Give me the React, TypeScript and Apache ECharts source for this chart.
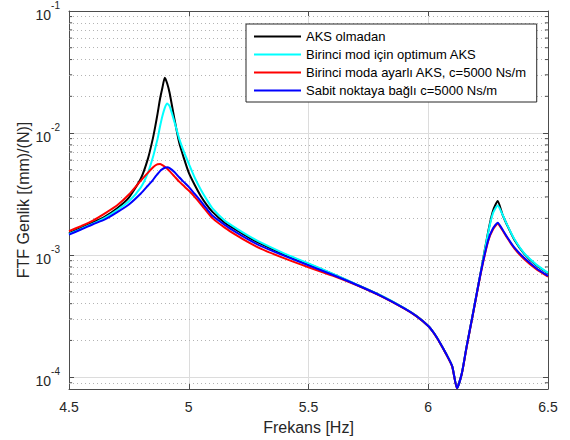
import React, { useEffect, useRef } from 'react';
import * as echarts from 'echarts';

// Frequency grid [Hz]
const frequencies = [
  4.5, 4.55, 4.6, 4.65, 4.7, 4.75, 4.8, 4.83, 4.85, 4.86, 4.87, 4.88, 4.89, 4.9, 4.91, 4.92, 4.94, 4.96, 4.98,
  5.0, 5.025, 5.05, 5.075, 5.1, 5.15, 5.2, 5.25, 5.3, 5.4, 5.5, 5.6, 5.7, 5.8, 5.9, 5.95,
  6.0, 6.025, 6.05, 6.075, 6.1, 6.12, 6.14, 6.16, 6.19, 6.22, 6.25, 6.27, 6.29, 6.31, 6.33, 6.36, 6.4, 6.45, 6.5,
];

// FTF amplitude [(mm)/(N)]
const aksOlmadan = [
  1.51e-3, 1.67e-3, 1.85e-3, 2.07e-3, 2.41e-3, 2.96e-3, 4.24e-3, 6.2e-3, 9.0e-3, 0.0113, 0.0145, 0.019, 0.0235, 0.0284, 0.0255, 0.0214, 0.0131, 8.35e-3, 6.2e-3,
  4.74e-3, 3.75e-3, 3.05e-3, 2.58e-3, 2.25e-3, 1.84e-3, 1.6e-3, 1.4e-3, 1.24e-3, 1.01e-3, 8.45e-4, 7.0e-4, 5.74e-4, 4.68e-4, 3.67e-4, 3.18e-4,
  2.63e-4, 2.28e-4, 1.9e-4, 1.55e-4, 1.23e-4, 8.1e-5, 1.07e-4, 1.77e-4, 3.6e-4, 7.4e-4, 1.55e-3, 2.3e-3, 2.77e-3, 2.15e-3, 1.75e-3, 1.33e-3, 1.03e-3, 8.3e-4, 7.1e-4,
];
const optimumAks = [
  1.49e-3, 1.64e-3, 1.81e-3, 2.02e-3, 2.33e-3, 2.76e-3, 3.59e-3, 4.74e-3, 6.3e-3, 7.5e-3, 9.0e-3, 0.0113, 0.0138, 0.0161, 0.0175, 0.0166, 0.0124, 9.0e-3, 7.0e-3,
  5.62e-3, 4.3e-3, 3.45e-3, 2.85e-3, 2.4e-3, 1.92e-3, 1.65e-3, 1.44e-3, 1.27e-3, 1.03e-3, 8.55e-4, 7.05e-4, 5.76e-4, 4.69e-4, 3.68e-4, 3.18e-4,
  2.63e-4, 2.28e-4, 1.9e-4, 1.55e-4, 1.23e-4, 8.1e-5, 1.07e-4, 1.77e-4, 3.6e-4, 7.4e-4, 1.52e-3, 2.2e-3, 2.55e-3, 2.15e-3, 1.76e-3, 1.35e-3, 1.04e-3, 8.4e-4, 7.15e-4,
];
const ayarliAks = [
  1.57e-3, 1.73e-3, 1.92e-3, 2.2e-3, 2.55e-3, 3.14e-3, 4.08e-3, 4.74e-3, 5.22e-3, 5.42e-3, 5.56e-3, 5.57e-3, 5.46e-3, 5.3e-3, 5.1e-3, 4.88e-3, 4.42e-3, 4.0e-3, 3.68e-3,
  3.38e-3, 3.0e-3, 2.62e-3, 2.28e-3, 2.0e-3, 1.68e-3, 1.45e-3, 1.27e-3, 1.13e-3, 9.4e-4, 7.95e-4, 6.8e-4, 5.68e-4, 4.63e-4, 3.64e-4, 3.16e-4,
  2.62e-4, 2.27e-4, 1.89e-4, 1.54e-4, 1.22e-4, 8.1e-5, 1.06e-4, 1.75e-4, 3.55e-4, 7.2e-4, 1.3e-3, 1.62e-3, 1.81e-3, 1.6e-3, 1.38e-3, 1.13e-3, 9.3e-4, 7.7e-4, 6.65e-4,
];
const sabitNokta = [
  1.47e-3, 1.62e-3, 1.79e-3, 1.96e-3, 2.24e-3, 2.6e-3, 3.2e-3, 3.72e-3, 4.12e-3, 4.38e-3, 4.62e-3, 4.88e-3, 5.06e-3, 5.2e-3, 5.24e-3, 5.16e-3, 4.8e-3, 4.34e-3, 3.96e-3,
  3.62e-3, 3.17e-3, 2.77e-3, 2.4e-3, 2.1e-3, 1.77e-3, 1.53e-3, 1.34e-3, 1.19e-3, 9.85e-4, 8.25e-4, 6.9e-4, 5.72e-4, 4.66e-4, 3.66e-4, 3.17e-4,
  2.63e-4, 2.28e-4, 1.9e-4, 1.55e-4, 1.23e-4, 8.1e-5, 1.07e-4, 1.77e-4, 3.58e-4, 7.3e-4, 1.32e-3, 1.65e-3, 1.84e-3, 1.62e-3, 1.4e-3, 1.15e-3, 9.5e-4, 7.85e-4, 6.75e-4,
];

const seriesNames = [
  'AKS olmadan',
  'Birinci mod için optimum AKS',
  'Birinci moda ayarlı AKS, c=5000 Ns/m',
  'Sabit noktaya bağlı c=5000 Ns/m',
];
const seriesValues = [aksOlmadan, optimumAks, ayarliAks, sabitNokta];
const seriesColors = ['#000000', '#00ffff', '#ff0000', '#0000ff'];

const xMin = 4.5;
const xMax = 6.5;
const xInterval = 0.5;
const yMin = 8e-5;
const yMax = 0.1;
const minorGridValues = [
  9e-5,
  2e-4, 3e-4, 4e-4, 5e-4, 6e-4, 7e-4, 8e-4, 9e-4,
  2e-3, 3e-3, 4e-3, 5e-3, 6e-3, 7e-3, 8e-3, 9e-3,
  2e-2, 3e-2, 4e-2, 5e-2, 6e-2, 7e-2, 8e-2, 9e-2,
];
const minorTickLength = 0.013; // in Hz

const FONT = 'Arial, "Liberation Sans", Helvetica, sans-serif';
const AXIS_COLOR = '#4d4d4d';
const TEXT_COLOR = '#262626';

export default function App() {
  const ref = useRef<HTMLDivElement>(null);

  useEffect(() => {
    if (!ref.current) return;
    const chart = echarts.init(ref.current, null, { renderer: 'svg' });

    const lineSeries = seriesNames.map((name, i) => ({
      name,
      type: 'line',
      symbol: 'none',
      smooth: 0.2,
      z: 3 + i,
      lineStyle: { color: seriesColors[i], width: 2 },
      itemStyle: { color: seriesColors[i] },
      data: frequencies.map((f, k) => [f, seriesValues[i][k]]),
    }));

    // Minor tick marks on the left and right axes
    const minorTickData = minorGridValues.flatMap((v) => [
      [xMin, v],
      [xMin + minorTickLength, v],
      [xMin, null],
      [xMax - minorTickLength, v],
      [xMax, v],
      [xMax, null],
    ]);

    const helperSeries = [
      {
        name: '_minorGrid',
        type: 'line',
        data: [],
        silent: true,
        z: 1,
        markLine: {
          silent: true,
          z: 1,
          precision: 10,
          symbol: 'none',
          animation: false,
          label: { show: false },
          lineStyle: { color: '#b4b4b4', width: 1, type: [1, 3] },
          data: minorGridValues.map((v) => ({ yAxis: v })),
        },
      },
      {
        name: '_minorTicks',
        type: 'line',
        symbol: 'none',
        silent: true,
        connectNulls: false,
        z: 2,
        lineStyle: { color: AXIS_COLOR, width: 1 },
        data: minorTickData,
      },
    ];

    const option = {
      animation: false,
      backgroundColor: '#ffffff',
      textStyle: { fontFamily: FONT },
      grid: { left: 69, right: 22, top: 10, bottom: 51, containLabel: false },
      legend: {
        data: seriesNames,
        orient: 'vertical',
        left: 246,
        top: 24,
        width: 290,
        itemWidth: 47,
        itemHeight: 13,
        itemGap: 5,
        padding: [6, 10, 5, 7],
        borderColor: '#262626',
        borderWidth: 1,
        backgroundColor: '#ffffff',
        itemStyle: { opacity: 0 },
        lineStyle: { width: 2 },
        textStyle: { fontSize: 13, color: '#000000', fontFamily: FONT },
        selectedMode: false,
      },
      xAxis: [
        {
          type: 'value',
          min: xMin,
          max: xMax,
          interval: xInterval,
          name: 'Frekans [Hz]',
          nameLocation: 'middle',
          nameGap: 30,
          nameMoveOverlap: false,
          nameTextStyle: { fontSize: 16, color: TEXT_COLOR, fontFamily: FONT },
          axisLine: { show: true, lineStyle: { color: AXIS_COLOR, width: 1 } },
          axisTick: { show: true, inside: true, length: 5, lineStyle: { color: AXIS_COLOR } },
          axisLabel: { fontSize: 14, color: TEXT_COLOR, margin: 11, fontFamily: FONT },
          splitLine: { show: true, lineStyle: { color: '#dcdcdc', width: 1 } },
        },
        {
          type: 'value',
          position: 'top',
          min: xMin,
          max: xMax,
          interval: xInterval,
          axisLine: { show: true, lineStyle: { color: AXIS_COLOR, width: 1 } },
          axisTick: { show: true, inside: true, length: 5, lineStyle: { color: AXIS_COLOR } },
          axisLabel: { show: false },
          splitLine: { show: false },
        },
      ],
      yAxis: [
        {
          type: 'log',
          logBase: 10,
          min: yMin,
          max: yMax,
          name: 'FTF Genlik [(mm)/(N)]',
          nameLocation: 'middle',
          nameGap: 38,
          nameMoveOverlap: false,
          nameTextStyle: { fontSize: 16, color: TEXT_COLOR, fontFamily: FONT },
          axisLine: { show: true, lineStyle: { color: AXIS_COLOR, width: 1 } },
          axisTick: { show: true, inside: true, length: 5, lineStyle: { color: AXIS_COLOR } },
          axisLabel: {
            margin: 9,
            showMinLabel: false,
            formatter: (v: number) => {
              const e = Math.log10(v);
              const r = Math.round(e);
              if (Math.abs(e - r) > 1e-6) return '';
              return `{b|10}{s|${r}}`;
            },
            rich: {
              b: { fontSize: 14, color: TEXT_COLOR, fontFamily: FONT, lineHeight: 22, verticalAlign: 'bottom' },
              s: { fontSize: 10, color: TEXT_COLOR, fontFamily: FONT, lineHeight: 12, verticalAlign: 'top' },
            },
          },
          splitLine: { show: true, lineStyle: { color: '#dcdcdc', width: 1 } },
        },
        {
          type: 'log',
          logBase: 10,
          min: yMin,
          max: yMax,
          position: 'right',
          axisLine: { show: true, lineStyle: { color: AXIS_COLOR, width: 1 } },
          axisTick: { show: true, inside: true, length: 5, lineStyle: { color: AXIS_COLOR } },
          axisLabel: { show: false },
          splitLine: { show: false },
        },
      ],
      series: [...helperSeries, ...lineSeries],
    };

    chart.setOption(option as any);
    return () => {
      chart.dispose();
    };
  }, []);

  return (
    <div
      ref={ref}
      style={{ position: 'absolute', left: 0, top: 0, width: 570, height: 440 }}
    />
  );
}
